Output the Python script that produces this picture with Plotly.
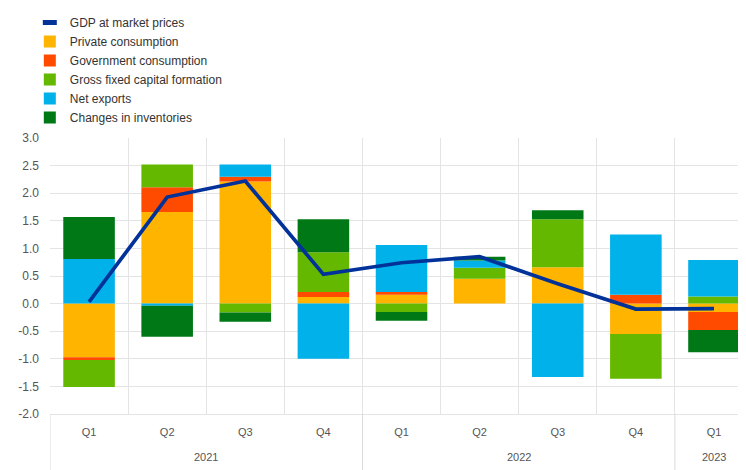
import plotly.graph_objects as go

# quarterly contributions to GDP growth (percentage points)
years = ["2021"] * 4 + ["2022"] * 4 + ["2023"]
quarters = ["Q1", "Q2", "Q3", "Q4", "Q1", "Q2", "Q3", "Q4", "Q1"]

gdp = [0.03, 1.93, 2.22, 0.53, 0.74, 0.85, 0.36, -0.10, -0.09]
private_consumption = [-0.97, 1.66, 2.21, 0.12, 0.16, 0.45, 0.66, -0.55, -0.15]
government_consumption = [-0.05, 0.45, 0.09, 0.09, 0.05, 0.00, 0.00, 0.16, -0.33]
gross_fixed_capital = [-0.49, 0.41, -0.16, 0.72, -0.15, 0.20, 0.87, -0.81, 0.13]
net_exports = [0.81, -0.04, 0.22, -1.00, 0.85, 0.13, -1.33, 1.09, 0.66]
inventories = [0.76, -0.56, -0.17, 0.60, -0.16, 0.07, 0.16, 0.00, -0.40]

y_ticks = [-2.0, -1.5, -1.0, -0.5, 0.0, 0.5, 1.0, 1.5, 2.0, 2.5, 3.0]

periods = [f"{q} {y}" for q, y in zip(quarters, years)]

components = [
    ("Private consumption", private_consumption, "#FFB400"),
    ("Government consumption", government_consumption, "#FF4B00"),
    ("Gross fixed capital formation", gross_fixed_capital, "#65B800"),
    ("Net exports", net_exports, "#00B1EA"),
    ("Changes in inventories", inventories, "#007816"),
]

GRID = "#e4e4e4"

fig = go.Figure()

# legend-only entry so the GDP symbol is a short thick dash
fig.add_trace(go.Scatter(
    x=[periods[0]], y=[None],
    mode="markers",
    name="GDP at market prices",
    marker=dict(symbol="line-ew", size=10, line=dict(width=5, color="#003299")),
    hoverinfo="skip"
))

for name, vals, color in components:
    fig.add_trace(go.Bar(
        x=periods, y=vals, name=name,
        marker=dict(color=color, line=dict(width=0)),
        width=0.66
    ))

fig.add_trace(go.Scatter(
    x=periods, y=gdp, mode="lines", name="GDP at market prices",
    line=dict(color="#003299", width=3.7),
    showlegend=False
))

# year labels under the quarters, and the dividers between years
year_names = []
for y in years:
    if y not in year_names:
        year_names.append(y)
for yr in year_names:
    idx = [i for i, y in enumerate(years) if y == yr]
    fig.add_annotation(
        x=sum(idx) / len(idx), y=-0.154, xref="x", yref="paper",
        text=yr, showarrow=False, yanchor="middle",
        font=dict(size=11, color="#555555")
    )
    fig.add_shape(
        type="line", xref="x", yref="paper",
        x0=idx[0] - 0.5, x1=idx[0] - 0.5, y0=0, y1=-0.21,
        line=dict(color="#d9d9d9", width=1)
    )

# the page body adds an 8px offset, so the figure is 8px smaller than the window
fig.update_layout(
    width=738, height=462,
    margin=dict(l=42, r=0, t=127, b=56),
    barmode="relative",
    plot_bgcolor="white",
    paper_bgcolor="white",
    font=dict(family="Arial, Liberation Sans, sans-serif", size=12, color="#404040"),
    legend=dict(
        x=-0.029, y=1.473, xanchor="left", yanchor="top",
        bgcolor="rgba(0,0,0,0)", traceorder="normal",
        font=dict(size=12, color="#333333"),
        tracegroupgap=0
    ),
    showlegend=True
)

fig.update_yaxes(
    range=[-2, 3],
    tickvals=y_ticks,
    ticktext=[f"{v:.1f}" for v in y_ticks],
    showgrid=True, gridcolor=GRID, gridwidth=1,
    zeroline=False, showline=False,
    ticklabelstandoff=10,
    tickfont=dict(size=12, color="#555555")
)

fig.update_xaxes(
    type="category",
    range=[-0.5, 8.41],
    tickvals=periods, ticktext=quarters,
    tickson="boundaries",
    showgrid=True, gridcolor=GRID, gridwidth=1,
    showline=True, linecolor=GRID,
    ticklabelstandoff=8,
    tickfont=dict(size=11, color="#555555")
)

fig.write_html("out.html")
